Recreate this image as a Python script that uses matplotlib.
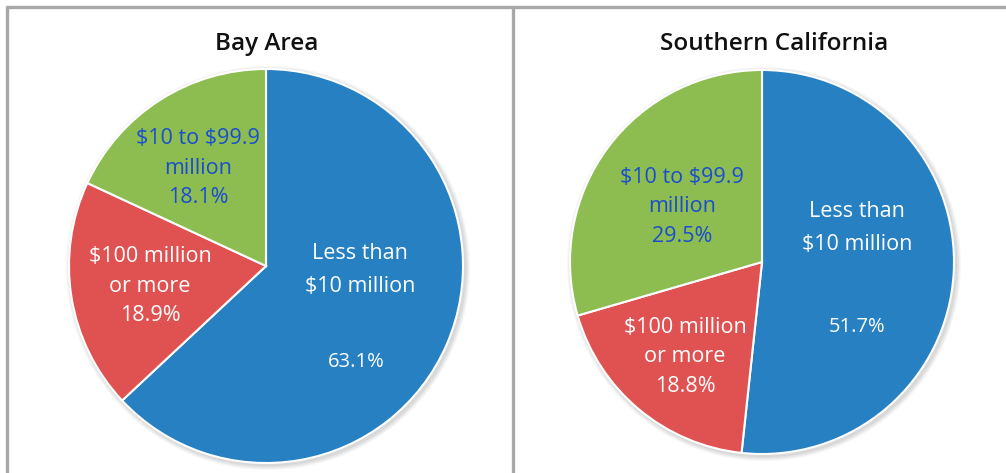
import matplotlib
matplotlib.use("Agg")
from matplotlib import pyplot as plt
from matplotlib.patches import Circle

plt.rcParams['font.family'] = ['Open Sans', 'DejaVu Sans']
plt.rcParams['text.parse_math'] = False

# data
regions = ["Bay Area", "Southern California"]
categories = ["Less than\n$10 million", "$100 million\nor more", "$10 to $99.9\nmillion"]
bay_values = [63.1, 18.9, 18.1]
socal_values = [51.7, 18.8, 29.5]
colors = ["#2680C2", "#E05251", "#8DBC50"]

W, H = 1006, 473
fig = plt.figure(figsize=(W / 100, H / 100), dpi=100)
ax = fig.add_axes([0, 0, 1, 1])

def py(y):
    # pixel row -> data y
    return H - y

# panel borders
border = "#A8A8A8"
ax.plot([6, W], [py(7.5), py(7.5)], color=border, lw=2.4, solid_capstyle="butt")
ax.plot([7.5, 7.5], [py(6), 0], color=border, lw=2.4, solid_capstyle="butt")
ax.plot([513.5, 513.5], [py(6), 0], color=border, lw=2.4, solid_capstyle="butt")

pies = [
    # center x, center y (pixels), radius, title x
    (266, 266, 197, 267, bay_values),
    (762, 262, 192, 774, socal_values),
]

for (cx, cy, r, tx, vals), name in zip(pies, regions):
    # soft shadow
    for k in range(5):
        ax.add_patch(Circle((cx + 2, py(cy) - 2), r + 1 + k, color="black",
                            alpha=0.03, lw=0, zorder=1))
    ax.pie(vals, colors=colors, startangle=90, counterclock=False,
           center=(cx, py(cy)), radius=r, frame=True,
           wedgeprops=dict(edgecolor="white", linewidth=1.5, zorder=2))
    ax.text(tx, py(44), name, ha="center", va="center", fontsize=17.5,
            fontweight="semibold", color="#111111")

ax.set_xlim(0, W)
ax.set_ylim(0, H)
ax.set_aspect("equal")
ax.axis("off")

lab = dict(ha="center", va="center", fontsize=15.5, linespacing=1.52)
big = dict(ha="center", va="center", fontsize=15.5, linespacing=1.72)
pct = dict(ha="center", va="center", fontsize=14.5)
white = "white"
blue_txt = "#1A4ED0"

# Bay Area labels
ax.text(360, py(270), categories[0], color=white, **big)
ax.text(356, py(362), f"{bay_values[0]}%", color=white, **pct)
ax.text(150, py(286), categories[1] + f"\n{bay_values[1]}%", color=white, **lab)
ax.text(198, py(168), categories[2] + f"\n{bay_values[2]}%", color=blue_txt, **lab)

# Southern California labels
ax.text(857, py(228), categories[0], color=white, **big)
ax.text(857, py(327), f"{socal_values[0]}%", color=white, **pct)
ax.text(685, py(357), categories[1] + f"\n{socal_values[1]}%", color=white, **lab)
ax.text(682, py(207), categories[2] + f"\n{socal_values[2]}%", color=blue_txt, **lab)

fig.savefig("out.png", dpi=100, facecolor="white")
